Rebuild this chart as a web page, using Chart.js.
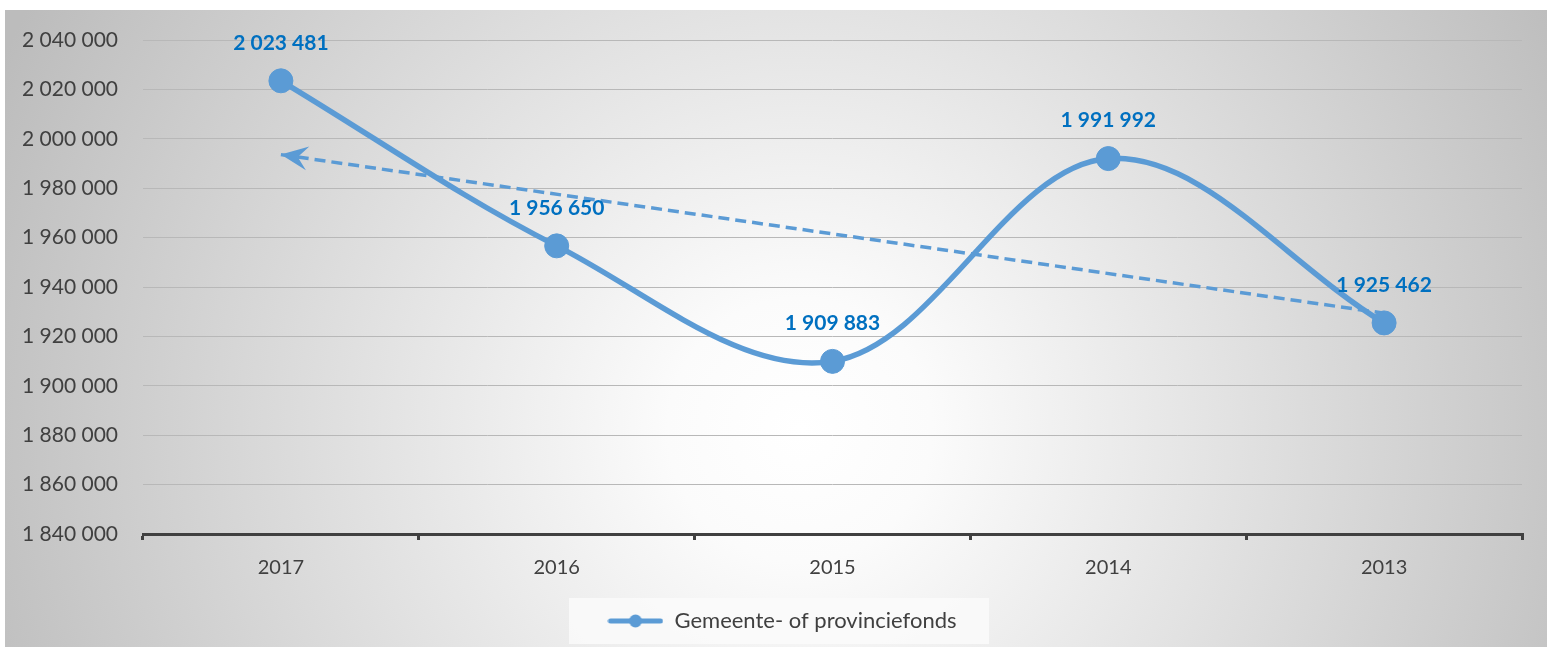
<!DOCTYPE html>
<html>
<head>
<meta charset="utf-8">
<script src="https://cdn.jsdelivr.net/npm/chart.js@4"></script>
<style>
  body { margin: 0; background: #fff; }
</style>
</head>
<body>
<canvas id="fondsChart" width="1547" height="650"></canvas>
<script>
const years = ['2017', '2016', '2015', '2014', '2013'];
const fondsValues = [2023481, 1956650, 1909883, 1991992, 1925462];
// trend line (only its two ends are drawn)
const trendValues = [1993600, null, null, null, 1929400];
const yMin = 1840000;
const yMax = 2040000;
const yStep = 20000;
const seriesLabel = 'Gemeente- of provinciefonds';

const blue = '#5b9bd5';
const labelBlue = '#0070c0';
const textGrey = '#404040';
const fontFamily = "Lato, 'Open Sans', sans-serif";

const fmt = v => String(Math.round(v)).replace(/\B(?=(\d{3})+(?!\d))/g, ' ');

// little line-with-dot marker for the legend
const marker = document.createElement('canvas');
marker.width = 56;
marker.height = 14;
(function () {
  const m = marker.getContext('2d');
  m.strokeStyle = blue;
  m.lineWidth = 5;
  m.lineCap = 'round';
  m.beginPath();
  m.moveTo(3, 7);
  m.lineTo(53, 7);
  m.stroke();
  m.fillStyle = blue;
  m.beginPath();
  m.arc(28, 7, 6.5, 0, Math.PI * 2);
  m.fill();
})();

// legend sits a little right of the canvas centre in the original
const legendShift = {
  id: 'legendShift',
  afterLayout(chart) {
    chart.legend.left += 21;
    chart.legend.right += 21;
  }
};

const backdrop = {
  id: 'backdrop',
  beforeDraw(chart) {
    const ctx = chart.ctx;
    ctx.save();
    const g = ctx.createRadialGradient(800, 430, 0, 800, 430, 880);
    g.addColorStop(0, '#ffffff');
    g.addColorStop(0.15, '#fbfbfb');
    g.addColorStop(1, '#bcbcbc');
    ctx.fillStyle = g;
    ctx.fillRect(5, 10, 1542, 637);

    const lg = chart.legend;
    const cx = (lg.left + lg.right) / 2 - 3;
    const cy = (lg.top + lg.bottom) / 2;
    ctx.fillStyle = 'rgba(250,250,250,0.85)';
    ctx.fillRect(cx - 210, cy - 23, 420, 46);
    ctx.restore();
  }
};

const valueLabels = {
  id: 'valueLabels',
  afterDatasetsDraw(chart) {
    const ctx = chart.ctx;
    const meta = chart.getDatasetMeta(0);
    ctx.save();
    ctx.font = 'bold 21px ' + fontFamily;
    ctx.fillStyle = labelBlue;
    ctx.textAlign = 'center';
    ctx.textBaseline = 'middle';
    meta.data.forEach((pt, i) => {
      ctx.fillText(fmt(fondsValues[i]), pt.x, pt.y - 38);
    });
    ctx.restore();
  }
};

const trendArrow = {
  id: 'trendArrow',
  afterDatasetsDraw(chart) {
    const meta = chart.getDatasetMeta(1);
    const a = meta.data[0];
    const b = meta.data[meta.data.length - 1];
    const ang = Math.atan2(a.y - b.y, a.x - b.x);
    const ctx = chart.ctx;
    ctx.save();
    ctx.translate(a.x, a.y);
    ctx.rotate(ang);
    ctx.fillStyle = blue;
    ctx.beginPath();
    ctx.moveTo(0, 0);
    ctx.lineTo(-27, -12);
    ctx.lineTo(-17, 0);
    ctx.lineTo(-27, 12);
    ctx.closePath();
    ctx.fill();
    ctx.restore();
  }
};

new Chart(document.getElementById('fondsChart'), {
  type: 'line',
  data: {
    labels: years,
    datasets: [
      {
        label: seriesLabel,
        data: fondsValues,
        borderColor: blue,
        backgroundColor: blue,
        borderWidth: 5.5,
        tension: 0.35,
        pointStyle: 'circle',
        pointRadius: 12,
        pointHoverRadius: 12,
        pointBorderWidth: 1,
        pointBackgroundColor: blue,
        pointBorderColor: blue,
      },
      {
        label: 'trend',
        data: trendValues,
        spanGaps: true,
        borderColor: blue,
        borderWidth: 3.5,
        borderDash: [11, 6],
        tension: 0,
        pointRadius: 0,
        pointHoverRadius: 0,
      }
    ]
  },
  options: {
    responsive: false,
    animation: false,
    layout: { padding: { top: 40, right: 25, bottom: 8, left: 0 } },
    plugins: {
      tooltip: { enabled: false },
      legend: {
        position: 'bottom',
        labels: {
          filter: item => item.datasetIndex === 0,
          usePointStyle: true,
          pointStyle: marker,
          pointStyleWidth: 56,
          padding: 10,
          color: textGrey,
          font: { family: fontFamily, size: 22 },
        }
      }
    },
    scales: {
      x: {
        offset: true,
        afterFit: s => { s.height = 66; },
        border: { color: textGrey, width: 3 },
        grid: {
          offset: true,
          drawOnChartArea: false,
          drawTicks: true,
          tickLength: 6,
          color: textGrey,
          lineWidth: 3,
        },
        ticks: {
          padding: 16,
          color: textGrey,
          font: { family: fontFamily, size: 20 },
        }
      },
      y: {
        min: yMin,
        max: yMax,
        afterFit: s => { s.width = 143; },
        border: { display: false },
        grid: { color: '#b8b8b8', lineWidth: 1, drawTicks: false },
        ticks: {
          stepSize: yStep,
          padding: 25,
          color: textGrey,
          font: { family: fontFamily, size: 21 },
          callback: v => fmt(v),
        }
      }
    }
  },
  plugins: [legendShift, backdrop, valueLabels, trendArrow]
});
</script>
</body>
</html>
